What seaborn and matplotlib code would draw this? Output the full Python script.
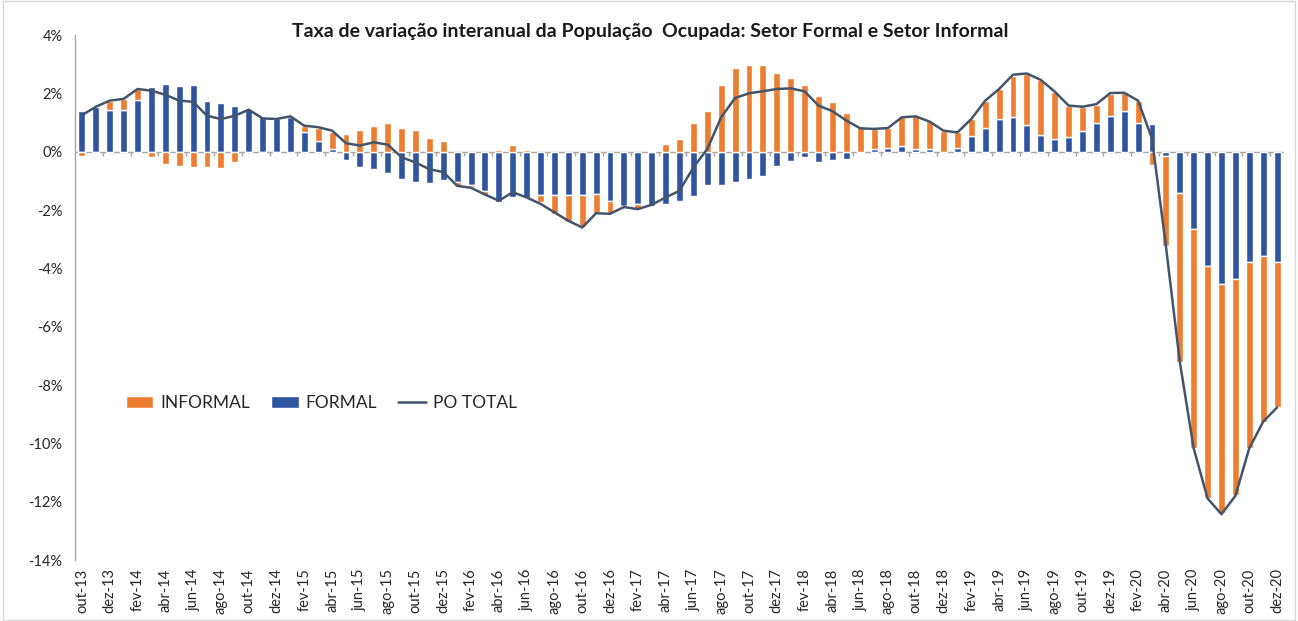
import numpy as np
import matplotlib
matplotlib.use("Agg")
import matplotlib.pyplot as plt
import seaborn as sns
import pandas as pd

# monthly data, out-13 .. dez-20 (percent)
meses = ["jan", "fev", "mar", "abr", "mai", "jun", "jul", "ago", "set", "out", "nov", "dez"]
labels = [f"{m}-13" for m in meses[9:]] + [f"{m}-{a}" for a in range(14, 21) for m in meses]

formal = [1.38, 1.54, 1.43, 1.43, 1.77, 2.23, 2.32, 2.24, 2.29, 1.75,
          1.66, 1.58, 1.46, 1.18, 1.15, 1.18, 0.66, 0.35, 0.09, -0.29,
          -0.54, -0.59, -0.74, -0.94, -1.03, -1.07, -0.97, -1.05, -1.13, -1.34,
          -1.71, -1.54, -1.60, -1.47, -1.47, -1.47, -1.47, -1.45, -1.68, -1.85,
          -1.79, -1.87, -1.79, -1.68, -1.51, -1.13, -1.13, -1.03, -0.95, -0.82,
          -0.50, -0.33, -0.19, -0.37, -0.29, -0.25, -0.06, 0.09, 0.13, 0.21,
          0.09, 0.09, 0.00, 0.11, 0.55, 0.81, 1.12, 1.20, 0.93, 0.58,
          0.43, 0.51, 0.70, 0.97, 1.23, 1.38, 1.00, 0.95, -0.15, -1.43,
          -2.66, -3.91, -4.55, -4.37, -3.79, -3.57, -3.79]

informal = [-0.14, 0.00, 0.32, 0.38, 0.38, -0.17, -0.42, -0.48, -0.51, -0.51,
            -0.56, -0.37, -0.02, -0.06, -0.06, 0.03, 0.23, 0.46, 0.60, 0.61,
            0.74, 0.88, 1.00, 0.81, 0.74, 0.47, 0.35, -0.12, -0.09, -0.13,
            0.06, 0.24, 0.05, -0.25, -0.67, -0.93, -1.10, -0.66, -0.43, -0.03,
            -0.18, 0.04, 0.26, 0.43, 0.97, 1.41, 2.29, 2.86, 2.97, 2.97,
            2.70, 2.51, 2.29, 1.92, 1.69, 1.31, 0.89, 0.69, 0.68, 0.97,
            1.12, 0.97, 0.70, 0.55, 0.57, 0.94, 1.03, 1.41, 1.73, 1.88,
            1.60, 1.07, 0.84, 0.64, 0.75, 0.62, 0.73, -0.46, -3.08, -5.77,
            -7.51, -7.98, -7.85, -7.40, -6.38, -5.69, -4.98]

po_total = [1.25, 1.54, 1.75, 1.81, 2.15, 2.09, 1.95, 1.75, 1.71, 1.23,
            1.12, 1.23, 1.44, 1.14, 1.12, 1.21, 0.89, 0.84, 0.72, 0.29,
            0.21, 0.32, 0.24, -0.19, -0.37, -0.60, -0.70, -1.17, -1.24, -1.47,
            -1.68, -1.39, -1.57, -1.79, -2.08, -2.37, -2.60, -2.11, -2.13, -1.90,
            -1.97, -1.82, -1.57, -1.34, -0.54, 0.09, 1.18, 1.84, 2.00, 2.07,
            2.15, 2.17, 2.07, 1.58, 1.39, 1.07, 0.80, 0.78, 0.81, 1.18,
            1.21, 1.03, 0.72, 0.66, 1.12, 1.75, 2.15, 2.64, 2.68, 2.46,
            2.06, 1.58, 1.54, 1.63, 2.01, 2.02, 1.75, 0.45, -3.23, -7.20,
            -10.17, -11.89, -12.43, -11.80, -10.17, -9.26, -8.77]

df = pd.DataFrame({"mes": labels, "formal": formal, "informal": informal, "total": po_total})
df["x"] = np.arange(len(df))

c_inf = "#ED7D31"
c_for = "#2F55A0"
c_line = "#44546A"

sns.set_style("white")
plt.rcParams["font.family"] = ["Lato", "DejaVu Sans"]

fig = plt.figure(figsize=(12.98, 6.21), dpi=100)
ax = fig.add_axes([75 / 1298, 1 - 560 / 621, 1209 / 1298, 525 / 621])

# stacked bars: formal first, informal stacked on same side
same_side = np.sign(df["informal"]) == np.sign(df["formal"])
bottom_inf = np.where(same_side, df["formal"], 0.0)
ax.bar(df["x"], df["formal"], width=0.5, color=c_for, label="FORMAL", zorder=2)
ax.bar(df["x"], df["informal"], width=0.5, bottom=bottom_inf, color=c_inf, label="INFORMAL", zorder=2)
sns.lineplot(data=df, x="x", y="total", ax=ax, color=c_line, linewidth=1.8, label="PO TOTAL", zorder=3)

ax.set_xlim(-0.5, len(df) - 0.5)
ax.set_ylim(-14, 4)
ax.set_yticks(np.arange(-14, 5, 2))
ax.set_yticklabels([f"{v}%" for v in range(-14, 5, 2)])
ax.set_xticks(df["x"][::2])
ax.set_xticklabels(df["mes"][::2], rotation=90)
ax.tick_params(axis="x", length=0, pad=6, labelsize=10.5, labelcolor="#262626")
ax.tick_params(axis="y", length=5, width=1, color="#A6A6A6", direction="out",
               labelsize=10.5, labelcolor="#262626", pad=4)
ax.set_xlabel("")
ax.set_ylabel("")

for s in ["top", "right", "bottom"]:
    ax.spines[s].set_visible(False)
ax.spines["left"].set_color("#A6A6A6")
ax.spines["left"].set_linewidth(1)

# horizontal axis at zero with small ticks every two months
ax.axhline(0, color="#A6A6A6", linewidth=1, zorder=1)
ax.vlines(np.arange(1.5, len(df), 2), 0, -0.15, color="#A6A6A6", linewidth=1, zorder=1)

fig.text(650 / 1298, 1 - 32 / 621,
         "Taxa de variação interanual da População  Ocupada: Setor Formal e Setor Informal",
         fontsize=14, fontweight="bold", color="#1a1a1a", ha="center", va="center")

handles, lbls = ax.get_legend_handles_labels()
order = [lbls.index("INFORMAL"), lbls.index("FORMAL"), lbls.index("PO TOTAL")]
ax.legend([handles[i] for i in order], [lbls[i] for i in order], ncol=3, frameon=False,
          loc="center left", bbox_to_anchor=(110 / 1298, 1 - 403 / 621),
          bbox_transform=fig.transFigure, fontsize=12.5, handlelength=1.6,
          handleheight=0.7, columnspacing=1.2, handletextpad=0.4, labelcolor="#262626")

# chart area border
fig.patches.append(plt.Rectangle((0.002, 0.002), 0.996, 0.996, transform=fig.transFigure,
                                 fill=False, edgecolor="#D9D9D9", linewidth=1))

fig.savefig("out.png", dpi=100)
